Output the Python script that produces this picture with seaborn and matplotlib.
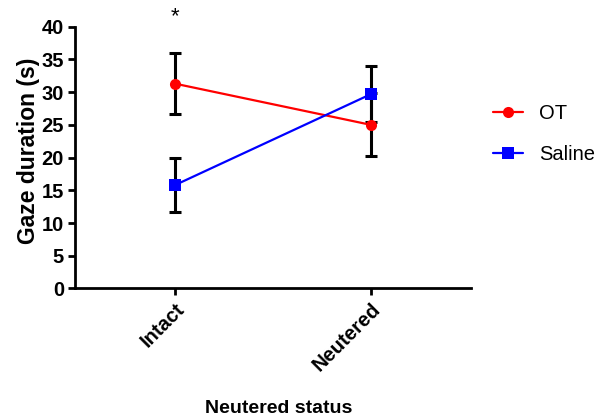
import pandas as pd
import numpy as np
import matplotlib
matplotlib.use("Agg")
import matplotlib.pyplot as plt
import seaborn as sns

# Means and SE
status = ["Intact", "Neutered"]
ot_mean = [31.3, 25.0]
ot_se = [4.7, 4.8]
saline_mean = [15.8, 29.7]
saline_se = [4.1, 4.3]

rows = []
for i, s in enumerate(status):
    rows.append({"Status": i, "Treatment": "OT", "Gaze": ot_mean[i], "SE": ot_se[i]})
    rows.append({"Status": i, "Treatment": "Saline", "Gaze": saline_mean[i], "SE": saline_se[i]})
df = pd.DataFrame(rows)

sns.set_style("ticks")
plt.rcParams["font.family"] = ["Liberation Sans", "DejaVu Sans"]
plt.rcParams.update({"text.color": "black", "axes.labelcolor": "black",
                     "xtick.color": "black", "ytick.color": "black",
                     "axes.edgecolor": "black"})

fig = plt.figure(figsize=(6.06, 4.18), dpi=100)
ax = fig.add_axes([0.124, 0.31, 0.653, 0.626])

# error bars first so markers sit on top
for trt in ["OT", "Saline"]:
    sub = df[df["Treatment"] == trt]
    ax.errorbar(sub["Status"], sub["Gaze"], yerr=sub["SE"], fmt="none",
                ecolor="black", elinewidth=2.2, capsize=4.3, capthick=2.2, zorder=2)

sns.lineplot(data=df, x="Status", y="Gaze", hue="Treatment", style="Treatment",
             palette={"OT": "#ff0000", "Saline": "#0000ff"},
             markers={"OT": "o", "Saline": "s"}, dashes=False,
             markersize=8, markeredgewidth=0, linewidth=1.6, ax=ax, zorder=3)

ax.set_xlim(-0.51, 1.51)
ax.set_ylim(0, 40)
ax.set_yticks(np.arange(0, 41, 5))
ax.set_xticks(range(len(status)))
ax.set_xticklabels(status, rotation=45, ha="right", rotation_mode="anchor")
for lab in ax.get_xticklabels() + ax.get_yticklabels():
    lab.set_fontweight("bold")
    lab.set_fontsize(14.5)
ax.tick_params(axis="both", width=2, length=5, pad=3, direction="out", color="black")
ax.set_xlabel("Neutered status", fontsize=14, fontweight="bold", va="top")
ax.xaxis.set_label_coords(0.515, -0.427)
ax.set_ylabel("Gaze duration (s)", fontsize=16.5, fontweight="bold")
ax.yaxis.set_label_coords(-0.09, 0.525)
sns.despine(ax=ax)
for sp in ["left", "bottom"]:
    ax.spines[sp].set_linewidth(2)

ax.text(0, 41.5, "*", ha="center", va="center", fontsize=16)

leg = ax.legend(loc="center left", bbox_to_anchor=(1.01, 0.59), frameon=False,
                fontsize=14.5, handlelength=1.5, handletextpad=0.8, labelspacing=1.05)
leg.set_title(None)

fig.savefig("out.png", dpi=100)
